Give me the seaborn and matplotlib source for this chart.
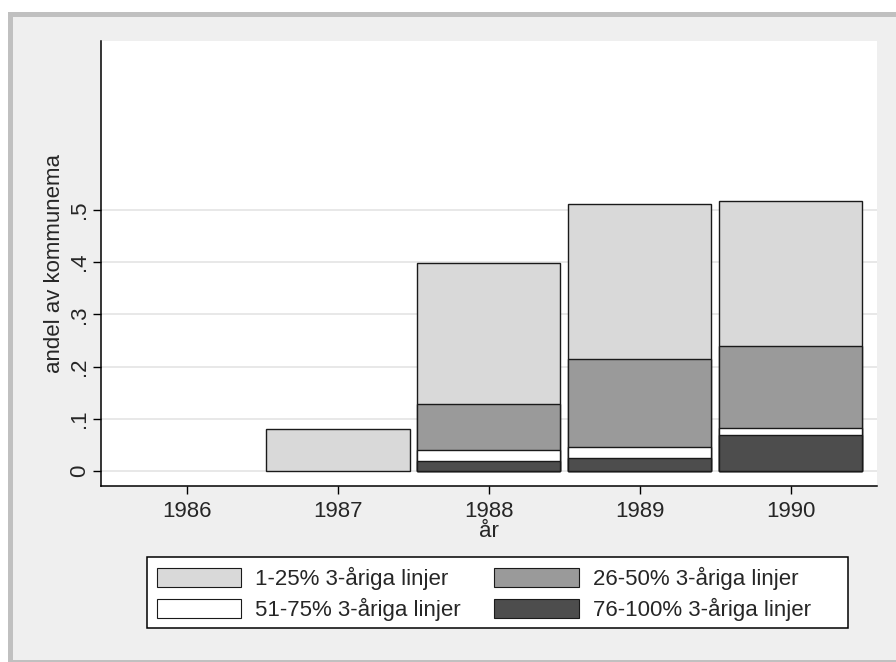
import numpy as np
import pandas as pd
import seaborn as sns
import matplotlib.pyplot as plt
from matplotlib.patches import Patch, Rectangle

# Data
years = ["1986", "1987", "1988", "1989", "1990"]
share_76_100 = [0.0, 0.0, 0.019, 0.025, 0.068]
share_51_75 = [0.0, 0.0, 0.021, 0.020, 0.014]
share_26_50 = [0.0, 0.0, 0.088, 0.170, 0.157]
share_1_25 = [0.0, 0.080, 0.270, 0.296, 0.278]

labels = ["1-25% 3-åriga linjer", "26-50% 3-åriga linjer",
          "51-75% 3-åriga linjer", "76-100% 3-åriga linjer"]
colors = ["#d9d9d9", "#9a9a9a", "#ffffff", "#4d4d4d"]

# cumulative tops, bottom segment first
df = pd.DataFrame({"year": years, "d": share_76_100, "w": share_51_75,
                   "g": share_26_50, "l": share_1_25})
df["c_d"] = df["d"]
df["c_w"] = df["c_d"] + df["w"]
df["c_g"] = df["c_w"] + df["g"]
df["c_l"] = df["c_g"] + df["l"]
for c in ["c_d", "c_w", "c_g", "c_l"]:
    df.loc[df[c] <= 0, c] = np.nan

sns.set_style("white")
plt.rcParams["font.family"] = ["Liberation Sans", "DejaVu Sans"]

W, H = 896, 662
fig = plt.figure(figsize=(W / 100, H / 100), dpi=100)
fig.patch.set_facecolor("white")
# Stata style graph region
fig.patches.append(Rectangle((8 / W, 0), 1 - 8 / W, 1 - 12 / H, transform=fig.transFigure,
                             facecolor="#c0c0c0", edgecolor="none", zorder=-3))
fig.patches.append(Rectangle((13 / W, 2 / H), 1 - 13 / W, 1 - 19 / H, transform=fig.transFigure,
                             facecolor="#efefef", edgecolor="none", zorder=-2))
# legend box
fig.patches.append(Rectangle((147 / W, 1 - 628 / H), 701 / W, 71 / H, transform=fig.transFigure,
                             facecolor="white", edgecolor="black", linewidth=1.1, zorder=-1))

ax = fig.add_axes([101 / W, 1 - 486 / H, (876.5 - 101) / W, (486 - 41) / H])
ax.set_facecolor("white")

# draw overlapping cumulative bars, tallest first
for col, color in zip(["c_l", "c_g", "c_w", "c_d"], colors):
    sns.barplot(data=df, x="year", y=col, order=years, color=color, width=0.95,
                edgecolor="#1a1a1a", linewidth=1.0, saturation=1, ax=ax, zorder=3)

ax.set_xlim(-0.57, 4.57)
ax.set_ylim(-0.029, 0.824)
ax.set_yticks([0, 0.1, 0.2, 0.3, 0.4, 0.5])
ax.set_yticklabels(["0", ".1", ".2", ".3", ".4", ".5"], rotation=90, va="center")
ax.yaxis.grid(True, color="#e8e8e8", linewidth=1.4, zorder=0)
ax.set_axisbelow(True)

for s in ["top", "right"]:
    ax.spines[s].set_visible(False)
for s in ["left", "bottom"]:
    ax.spines[s].set_color("black")
    ax.spines[s].set_linewidth(1.1)

ax.tick_params(axis="both", which="both", direction="out", length=6, width=1.0,
               color="black", labelsize=16, left=True, bottom=True)
ax.tick_params(axis="y", pad=2)
ax.tick_params(axis="x", pad=5)
ax.set_xlabel("år", fontsize=16, labelpad=-1)
ax.set_ylabel("andel av kommunema", fontsize=16, labelpad=3)

handles = [Patch(facecolor=c, edgecolor="#1a1a1a", linewidth=0.8) for c in colors]
order = [0, 2, 1, 3]
leg = fig.legend([handles[i] for i in order], [labels[i] for i in order],
                 ncol=2, loc="upper left",
                 bbox_to_anchor=(147 / W, 1 - 557 / H),
                 fontsize=16, frameon=False, borderaxespad=0, handlelength=3.8,
                 handleheight=0.9, handletextpad=0.63, columnspacing=1.5,
                 labelspacing=0.36, borderpad=0.45)

fig.savefig("out.png", dpi=100)
